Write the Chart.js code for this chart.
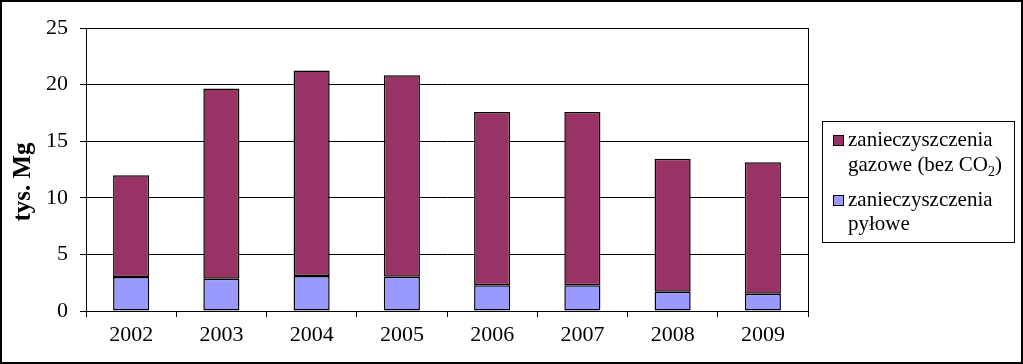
<!DOCTYPE html>
<html>
<head>
<meta charset="utf-8">
<script src="https://cdn.jsdelivr.net/npm/chart.js@4.4.1/dist/chart.umd.min.js"></script>
<style>
  html, body { margin: 0; padding: 0; background: #fff; }
  #wrap { width: 1023px; height: 364px; position: relative; }
</style>
</head>
<body>
<div id="wrap"><canvas id="c" width="1023" height="364"></canvas></div>
<script>
const categories = ['2002', '2003', '2004', '2005', '2006', '2007', '2008', '2009'];
const pylowe = [3.0, 2.85, 3.1, 3.03, 2.27, 2.27, 1.71, 1.53];
const gazowe = [9.0, 16.8, 18.15, 17.8, 15.3, 15.3, 11.75, 11.6];
const yTicks = [0, 5, 10, 15, 20, 25];
const yTitle = 'tys. Mg';
const legendLines = [
  ['zanieczyszczenia', 'gazowe (bez CO|2|)'],
  ['zanieczyszczenia', 'pyłowe']
];

const FONT = '"Liberation Serif", "Times New Roman", serif';

const framePlugin = {
  id: 'frame',
  afterDraw(chart) {
    const ctx = chart.ctx;
    const a = chart.chartArea;
    ctx.save();
    ctx.strokeStyle = '#000';
    ctx.lineWidth = 1;
    ctx.strokeRect(Math.round(a.left) + 0.5, Math.round(a.top) + 0.5, Math.round(a.right - a.left), Math.round(a.bottom - a.top));
    ctx.lineWidth = 2;
    ctx.strokeRect(1, 1, chart.width - 2, chart.height - 2);

    ctx.fillStyle = '#000';
    ctx.font = 'bold 25px ' + FONT;
    ctx.textAlign = 'center';
    ctx.textBaseline = 'middle';
    ctx.translate(24, 182);
    ctx.rotate(-Math.PI / 2);
    ctx.fillText(yTitle, 0, 0);
    ctx.restore();

    ctx.save();
    const lx = 822, ly = 121, lw = 192, lh = 121;
    ctx.fillStyle = '#fff';
    ctx.fillRect(lx, ly, lw, lh);
    ctx.strokeStyle = '#000';
    ctx.lineWidth = 1;
    ctx.strokeRect(lx + 0.5, ly + 0.5, lw, lh);
    const baselines = [[146, 171], [206, 230]];
    const order = [1, 0];
    ctx.font = '21px ' + FONT;
    ctx.textBaseline = 'alphabetic';
    ctx.textAlign = 'left';
    order.forEach((di, i) => {
      const ds = chart.data.datasets[di];
      const b = baselines[i];
      ctx.fillStyle = ds.backgroundColor;
      ctx.fillRect(833, b[0] - 11, 11, 11);
      ctx.strokeStyle = '#000';
      ctx.strokeRect(833.5, b[0] - 10.5, 10, 10);
      ctx.fillStyle = '#000';
      legendLines[i].forEach((line, j) => {
        const parts = line.split('|');
        let x = 848;
        parts.forEach((p, k) => {
          if (k === 1) {
            ctx.font = '14px ' + FONT;
            ctx.fillText(p, x, b[j] + 5);
            x += ctx.measureText(p).width;
            ctx.font = '21px ' + FONT;
          } else {
            ctx.fillText(p, x, b[j]);
            x += ctx.measureText(p).width;
          }
        });
      });
    });
    ctx.restore();
  }
};

new Chart(document.getElementById('c'), {
  type: 'bar',
  data: {
    labels: categories,
    datasets: [
      { label: 'zanieczyszczenia pyłowe', data: pylowe, backgroundColor: '#9999FF', borderColor: '#000', borderWidth: 1.5, borderSkipped: false, barPercentage: 0.4, categoryPercentage: 1 },
      { label: 'zanieczyszczenia gazowe (bez CO2)', data: gazowe, backgroundColor: '#993366', borderColor: '#000', borderWidth: 1.5, borderSkipped: false, barPercentage: 0.4, categoryPercentage: 1 }
    ]
  },
  options: {
    responsive: false,
    animation: false,
    layout: { padding: { left: 0, right: 215, top: 28, bottom: 0 } },
    plugins: { legend: { display: false }, tooltip: { enabled: false } },
    scales: {
      x: {
        stacked: true,
        offset: true,
        grid: { offset: true, drawOnChartArea: false, drawTicks: true, tickLength: 6, color: '#000' },
        border: { color: '#000' },
        ticks: { color: '#000', font: { family: FONT, size: 22 }, padding: 5, maxRotation: 0 },
        afterFit(s) { s.height = 53; }
      },
      y: {
        stacked: true,
        min: 0, max: 25,
        afterBuildTicks(s) { s.ticks = yTicks.map(v => ({ value: v })); },
        grid: { color: '#000', drawTicks: true, tickLength: 6 },
        border: { color: '#000' },
        ticks: { color: '#000', font: { family: FONT, size: 22 }, padding: 12 },
        afterFit(s) { s.width = 86; }
      }
    }
  },
  plugins: [framePlugin]
});
</script>
</body>
</html>
